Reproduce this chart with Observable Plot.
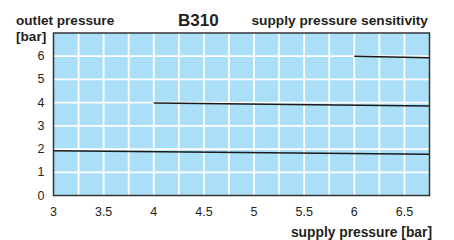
<!DOCTYPE html>
<html><head><meta charset="utf-8">
<script src="https://cdn.jsdelivr.net/npm/d3@7"></script>
<script src="https://cdn.jsdelivr.net/npm/@observablehq/plot@0.6"></script>
<style>
body{margin:0;background:#fff;}
#wrap{position:relative;width:454px;height:240px;font-family:"Liberation Sans",Arial,sans-serif;}
.t{position:absolute;font-weight:bold;color:#231f20;white-space:nowrap;line-height:1;}
</style></head><body>
<div id="wrap"></div>
<script>
const xTicks = [3, 3.5, 4, 4.5, 5, 5.5, 6, 6.5];
const yTicks = [0, 1, 2, 3, 4, 5, 6];
const xGrid = [3.25, 3.5, 3.75, 4, 4.25, 4.5, 4.75, 5, 5.25, 5.5, 5.75, 6, 6.25, 6.5];
const yGrid = [1, 2, 3, 4, 5, 6];
const series = ["2 bar", "4 bar", "6 bar"];
const supplyStart = [3, 4, 6];
const supplyEnd = [6.75, 6.75, 6.75];
const outletStart = [1.93, 3.98, 6.0];
const outletEnd = [1.78, 3.86, 5.93];

const segs = series.map((s, i) => ({s, x1: supplyStart[i], x2: supplyEnd[i], y1: outletStart[i], y2: outletEnd[i]}));

const chart = Plot.plot({
  width: 454, height: 240,
  marginLeft: 53, marginRight: 25, marginTop: 32.5, marginBottom: 45,
  style: {fontFamily: "Liberation Sans, Arial, sans-serif", fontSize: "12px", color: "#231f20", background: "transparent"},
  x: {domain: [3, 6.75], label: null},
  y: {domain: [0, 7], label: null},
  marks: [
    Plot.frame({fill: "#abdff8", stroke: null}),
    Plot.ruleX(xGrid, {stroke: "#fff", strokeWidth: 1.8}),
    Plot.ruleY(yGrid, {stroke: "#fff", strokeWidth: 1.8}),
    Plot.link(segs, {x1: "x1", y1: "y1", x2: "x2", y2: "y2", stroke: "#1a1a1a", strokeWidth: 1.5}),
    Plot.frame({stroke: "#333", strokeWidth: 1.5}),
    Plot.axisX(xTicks, {tickSize: 0, tickPadding: 12, tickFormat: d => String(d), fontSize: 12.5}),
    Plot.axisY(yTicks, {tickSize: 0, tickPadding: 9, tickFormat: d => String(d), fontSize: 12.5})
  ]
});
const wrap = document.getElementById("wrap");
wrap.appendChild(chart);
chart.style.position = "absolute"; chart.style.left = "0"; chart.style.top = "0";
function addT(txt, css){const d=document.createElement("div");d.className="t";d.textContent=txt;Object.assign(d.style,css);wrap.appendChild(d);}
addT("outlet pressure", {left:"16px", top:"14px", fontSize:"13.6px"});
addT("[bar]", {left:"16px", top:"30px", fontSize:"13.6px"});
addT("B310", {left:"178px", top:"12px", fontSize:"17px"});
addT("supply pressure sensitivity", {right:"26px", top:"14px", fontSize:"13.7px"});
addT("supply pressure [bar]", {right:"22px", top:"226px", fontSize:"13.8px"});
</script>
</body></html>
